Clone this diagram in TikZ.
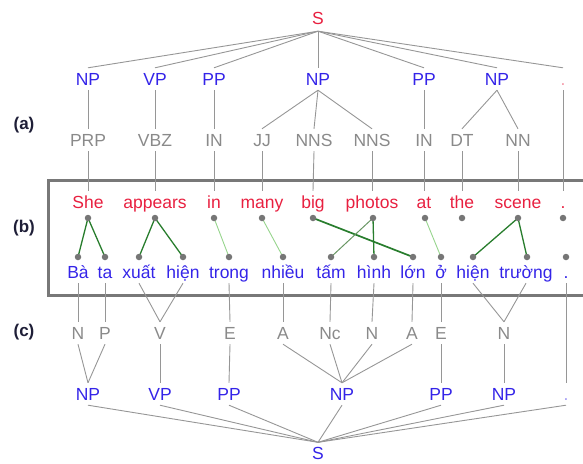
\documentclass[tikz,border=0pt]{standalone}
\usepackage{fontspec}
\setmainfont{Liberation Sans}
\usetikzlibrary{backgrounds}
\definecolor{tred}{RGB}{232,32,64}
\definecolor{tblue}{RGB}{52,36,232}
\definecolor{tgray}{RGB}{138,138,138}
\definecolor{lgray}{RGB}{150,150,150}
\definecolor{dotgray}{RGB}{118,118,118}
\definecolor{boxgray}{RGB}{120,120,120}
\definecolor{gdark}{RGB}{40,125,45}
\definecolor{gmid}{RGB}{105,150,100}
\definecolor{glight}{RGB}{150,212,140}
\definecolor{labc}{RGB}{30,30,55}
\begin{document}
\begin{tikzpicture}[x=1pt,y=-1pt,
  lbl/.style={inner sep=0pt, minimum height=22pt, text height=12.5pt, text depth=0pt, font=\fontsize{17.5}{20}\selectfont},
  phr/.style={lbl, text=tblue},
  postag/.style={lbl, text=tgray},
  enw/.style={lbl, text=tred},
  vnw/.style={lbl, text=tblue},
  dotn/.style={circle, fill=dotgray, inner sep=0pt, minimum size=6.5pt},
  tl/.style={draw=lgray, line width=0.9pt},
  lk/.style={draw=gdark, line width=1.3pt},
  lkthick/.style={draw=gdark, line width=1.7pt},
  lkmid/.style={draw=gmid, line width=1pt},
  lklight/.style={draw=glight, line width=0.9pt},
  seclab/.style={font=\bfseries\fontsize{17}{19}\selectfont, text=labc, inner sep=0pt}]
\useasboundingbox (0,0) rectangle (583,463);
\clip (0,0) rectangle (583,463);

% box
\draw[line width=3pt, draw=boxgray] (600,180) -- (48.5,180) -- (48.5,295) -- (600,295);

% section labels
\node[seclab] (la) at (24,125) {(a)};
\node[seclab] (lb) at (24,228) {(b)};
\node[seclab] (lc) at (24,332) {(c)};

% top tree
\node[lbl, text=tred, minimum height=25pt] (S0) at (318,18.5) {S};
\foreach \n/\x/\t in {a1/88/NP, a2/155/VP, a3/214/PP, a4/318/NP, a5/424/PP, a6/497/NP}
  \node[phr] (\n) at (\x,79) {\t};
\node[lbl, text=tred!45] (a7) at (563,79) {.};
\foreach \n/\x/\t in {t1/88/PRP, t2/155/VBZ, t3/214/IN, t4/262/JJ, t5/314/NNS, t6/372/NNS, t7/424/IN, t8/462/DT, t9/518/NN}
  \node[postag] (\n) at (\x,140) {\t};

% english words and dots
\foreach \n/\x/\t in {e1/88/She, e2/155/appears, e3/214/in, e4/262/many, e5/313/big, e6/372/photos, e7/424/at, e8/462/the, e9/518/scene, e10/563/.}
  \node[enw] (\n) at (\x,202) {\t};
\foreach \n/\x in {d1/88, d2/155, d3/214, d4/262, d5/313, d6/373, d7/425, d8/462, d9/518, d10/563}
  \node[dotn] (\n) at (\x,218) {};

% vietnamese words and dots
\foreach \n/\x in {u1/78, u2/105, u3/139, u4/183, u5/229, u6/283, u7/331, u8/374, u9/413, u10/441, u11/473, u12/527, u13/566}
  \node[dotn] (\n) at (\x,257) {};
\foreach \n/\x/\t in {w1/78/Bà, w2/105/ta, w3/139/xuất, w4/183/hiện, w5/229/trong, w6/283/nhiều, w7/331/tấm, w8/374/hình, w9/413/lớn, w10/441/ở, w11/473/hiện, w12/526/trường}
  \node[vnw] (\n) at (\x,272) {\t};
\node[vnw] (w13) at (566,272) {.};

% bottom tree
\foreach \n/\x/\t in {c1/78/N, c2/105/P, c3/160/V, c4/230/E, c5/283/A, c6/330/Nc, c7/372/N, c8/412/A, c9/441/E, c10/504/N}
  \node[postag] (\n) at (\x,333) {\t};
\foreach \n/\x/\t in {b1/88/NP, b2/160/VP, b3/229/PP, b4/342/NP, b5/441/PP, b6/504/NP}
  \node[phr] (\n) at (\x,394) {\t};
\node[lbl, text=tblue!45] (b7) at (566,394) {.};
\node[phr] (S1) at (318,453.5) {S};

% top tree lines
\foreach \n in {a1,a2,a3,a4,a5,a6,a7} \draw[tl] (S0.south) -- (\n.north);
\draw[tl] (a1.south) -- (t1.north);
\draw[tl] (a2.south) -- (t2.north);
\draw[tl] (a3.south) -- (t3.north);
\draw[tl] (a4.south) -- (t4.north);
\draw[tl] (a4.south) -- (t5.north);
\draw[tl] (a4.south) -- (t6.north);
\draw[tl] (a5.south) -- (t7.north);
\draw[tl] (a6.south) -- (t8.north);
\draw[tl] (a6.south) -- (t9.north);
\draw[tl] (a7.south) -- (e10.north);
\foreach \t/\e in {t1/e1, t2/e2, t3/e3, t4/e4, t5/e5, t6/e6, t7/e7, t8/e8, t9/e9}
  \draw[tl] (\t.south) -- (\e.north);

% bottom tree lines
\draw[tl] (w1.south) -- (c1.north);
\draw[tl] (w2.south) -- (c2.north);
\draw[tl] (w3.south) -- (c3.north);
\draw[tl] (w4.south) -- (c3.north);
\draw[tl] (w5.south) -- (c4.north);
\draw[tl] (w6.south) -- (c5.north);
\draw[tl] (w7.south) -- (c6.north);
\draw[tl] (w8.south) -- (c7.north);
\draw[tl] (w9.south) -- (c8.north);
\draw[tl] (w10.south) -- (c9.north);
\draw[tl] (w11.south) -- (c10.north);
\draw[tl] (w12.south) -- (c10.north);
\draw[tl] (w13.south) -- (b7.north);
\draw[tl] (c1.south) -- (b1.north);
\draw[tl] (c2.south) -- (b1.north);
\draw[tl] (c3.south) -- (b2.north);
\draw[tl] (c4.south) -- (b3.north);
\foreach \c in {c5,c6,c7,c8} \draw[tl] (\c.south) -- (b4.north);
\draw[tl] (c9.south) -- (b5.north);
\draw[tl] (c10.south) -- (b6.north);
\foreach \n in {b1,b2,b3,b4,b5,b6,b7} \draw[tl] (\n.south) -- (S1.north);

% alignment links
\begin{scope}[on background layer]
\draw[lk] (d1.center) -- (u1.center);
\draw[lk] (d1.center) -- (u2.center);
\draw[lk] (d2.center) -- (u3.center);
\draw[lk] (d2.center) -- (u4.center);
\draw[lklight] (d3.center) -- (u5.center);
\draw[lklight] (d4.center) -- (u6.center);
\draw[lkthick] (d5.center) -- (u9.center);
\draw[lkmid] (d6.center) -- (u7.center);
\draw[lk] (d6.center) -- (u8.center);
\draw[lklight] (d7.center) -- (u10.center);
\draw[lk] (d9.center) -- (u11.center);
\draw[lk] (d9.center) -- (u12.center);
\end{scope}
\end{tikzpicture}
\end{document}
